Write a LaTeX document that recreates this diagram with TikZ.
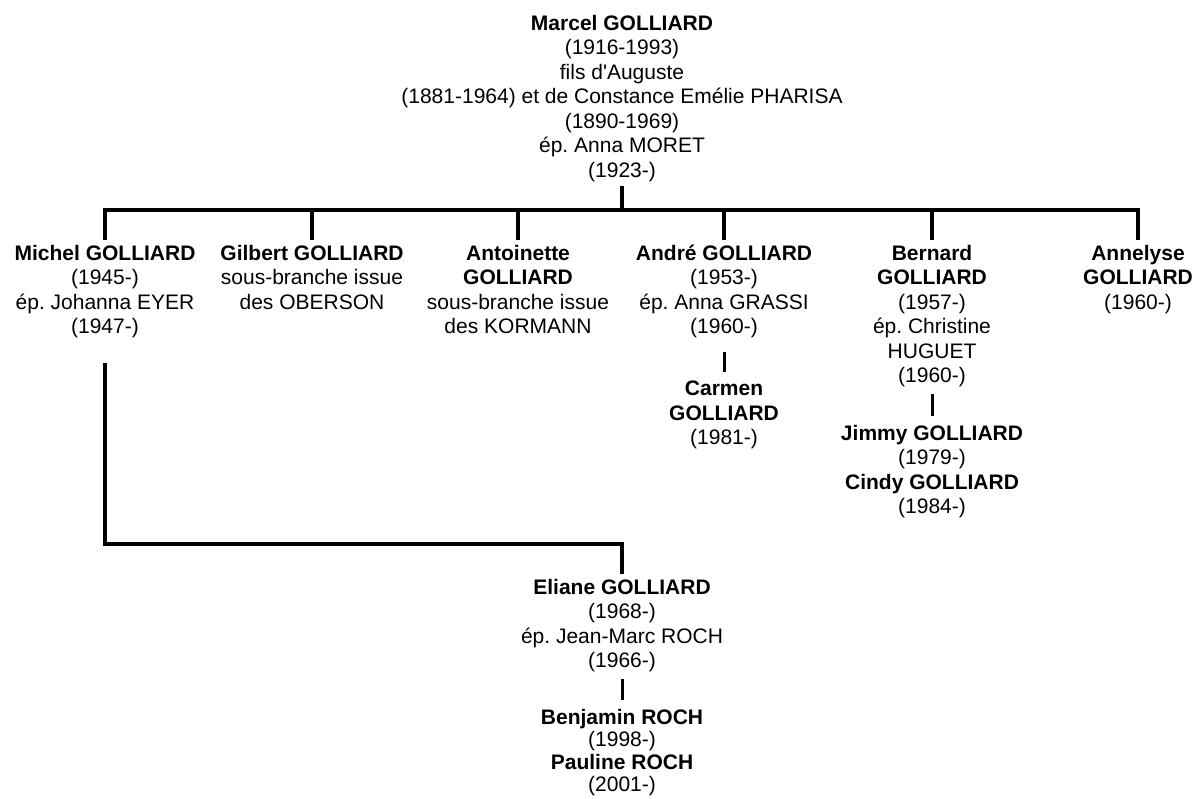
\documentclass[tikz,border=0pt]{standalone}
\usepackage{fontspec}
\setmainfont{Liberation Sans}[Ligatures=TeXOff]
\frenchspacing
\usetikzlibrary{calc}

\begin{document}
\begin{tikzpicture}[x=1pt, y=-1pt,
    person/.style={align=center, anchor=north, inner xsep=0pt, inner ysep=4.7pt,
                   font=\fontsize{21}{24.5}\selectfont},
    trunk/.style={line width=4pt},
    twig/.style={line width=3pt, shorten <=2pt, shorten >=4pt}]
    % Page frame, same size as the original scan
    \useasboundingbox (0,0) rectangle (1198,798);

    % Head of the branch
    \node[person] (marcel) at (622,10) {\textbf{Marcel GOLLIARD}\\(1916-1993)\\fils d'Auguste\\(1881-1964) et de Constance Emélie PHARISA\\(1890-1969)\\ép. Anna MORET\\(1923-)};
    \coordinate (bar) at (622,210);

    % Children
    \node[person] (michel) at (105,240) {\textbf{Michel GOLLIARD}\\(1945-)\\ép. Johanna EYER\\(1947-)};
    \node[person] (gilbert) at (312,240) {\textbf{Gilbert GOLLIARD}\\sous-branche issue\\des OBERSON};
    \node[person] (antoinette) at (518,240) {\textbf{Antoinette}\\\textbf{GOLLIARD}\\sous-branche issue\\des KORMANN};
    \node[person] (andre) at (724,240) {\textbf{André GOLLIARD}\\(1953-)\\ép. Anna GRASSI\\(1960-)};
    \node[person] (bernard) at (932,240) {\textbf{Bernard}\\\textbf{GOLLIARD}\\(1957-)\\ép. Christine\\HUGUET\\(1960-)};
    \node[person] (annelyse) at (1138,240) {\textbf{Annelyse}\\\textbf{GOLLIARD}\\(1960-)};

    % Grandchildren
    \node[person] (carmen) at (724,376) {\textbf{Carmen}\\\textbf{GOLLIARD}\\(1981-)};
    \node[person] (jimmy) at (932,420) {\textbf{Jimmy GOLLIARD}\\(1979-)\\\textbf{Cindy GOLLIARD}\\(1984-)};
    \node[person] (eliane) at (622,574) {\textbf{Eliane GOLLIARD}\\(1968-)\\ép. Jean-Marc ROCH\\(1966-)};
    \node[person, font=\fontsize{21}{22.5}\selectfont] (benjamin) at (622,704) {\textbf{Benjamin ROCH}\\(1998-)\\\textbf{Pauline ROCH}\\(2001-)};

    % Main bar from Marcel to his children
    \draw[trunk] (marcel.south) -- (marcel.south |- bar);
    \draw[trunk] (michel.north) |- (bar -| annelyse.north) -- (annelyse.north);
    \foreach \kid in {gilbert,antoinette,andre,bernard}
        \draw[trunk] (\kid.north) -- (\kid.north |- bar);

    % Michel down to Eliane
    \draw[trunk] ([yshift=-20pt]michel.south) -- ++(0,181) -| (eliane.north);

    % Short links to the next generation
    \draw[twig, shorten <=9pt] (andre.south) -- (carmen.north);
    \draw[twig] (bernard.south) -- (jimmy.north);
    \draw[twig] (eliane.south) -- (benjamin.north);
\end{tikzpicture}
\end{document}
